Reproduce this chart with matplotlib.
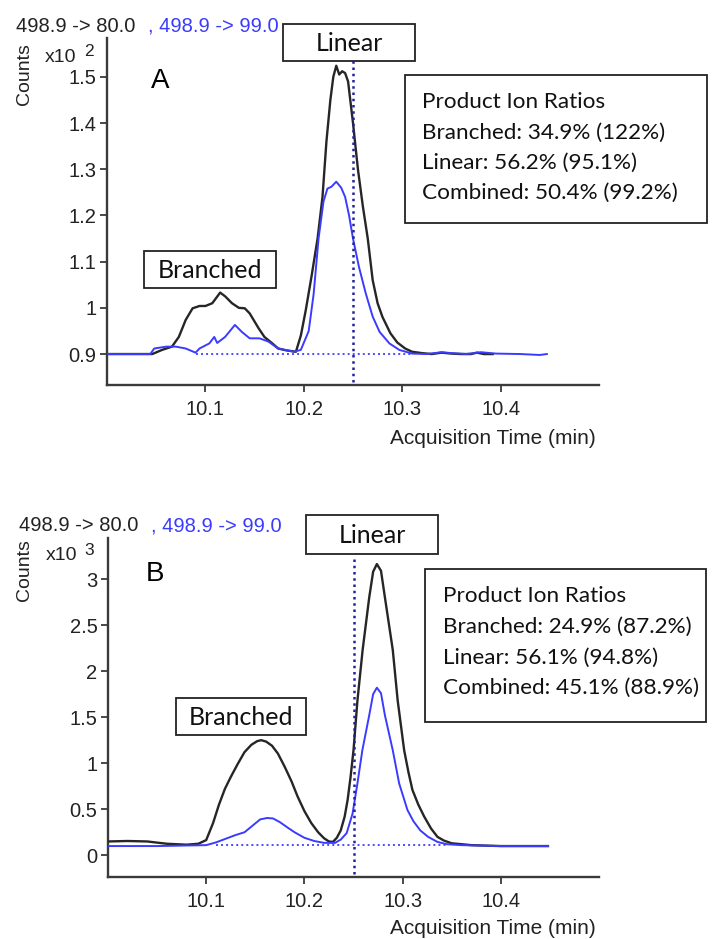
import matplotlib
matplotlib.use("Agg")
import matplotlib.pyplot as plt
from matplotlib.patches import Rectangle

# ---------------- data ----------------
# Panel A (Counts x10^2)
a_black_t = [10.000, 10.046, 10.056, 10.066, 10.073, 10.080, 10.087, 10.094, 10.100, 10.107,
             10.115, 10.120, 10.127, 10.134, 10.140, 10.145, 10.154, 10.160, 10.168, 10.174,
             10.182, 10.192, 10.197, 10.202, 10.208, 10.214, 10.219, 10.223, 10.227, 10.230,
             10.233, 10.236, 10.239, 10.242, 10.245, 10.250, 10.255, 10.260, 10.265, 10.270,
             10.275, 10.280, 10.288, 10.295, 10.303, 10.310, 10.320, 10.330, 10.340, 10.350,
             10.360, 10.370, 10.376, 10.383, 10.392]
a_black_y = [0.900, 0.900, 0.909, 0.916, 0.937, 0.974, 0.999, 1.004, 1.004, 1.010,
             1.033, 1.025, 1.010, 1.000, 0.999, 0.988, 0.956, 0.937, 0.923, 0.912,
             0.908, 0.905, 0.940, 0.995, 1.070, 1.150, 1.240, 1.360, 1.450, 1.500,
             1.524, 1.505, 1.512, 1.508, 1.490, 1.400, 1.300, 1.220, 1.150, 1.060,
             1.010, 0.980, 0.945, 0.925, 0.912, 0.905, 0.902, 0.900, 0.903, 0.901,
             0.900, 0.900, 0.903, 0.900, 0.900]

a_blue_t = [10.000, 10.044, 10.048, 10.060, 10.070, 10.080, 10.090, 10.094, 10.104, 10.109,
            10.112, 10.120, 10.130, 10.137, 10.145, 10.155, 10.164, 10.174, 10.190, 10.197,
            10.205, 10.210, 10.215, 10.220, 10.224, 10.228, 10.233, 10.238, 10.242, 10.246,
            10.250, 10.256, 10.263, 10.270, 10.277, 10.287, 10.297, 10.310, 10.325, 10.340,
            10.350, 10.365, 10.380, 10.395, 10.420, 10.440, 10.447]
a_blue_y = [0.900, 0.900, 0.912, 0.916, 0.916, 0.912, 0.903, 0.912, 0.923, 0.937,
            0.924, 0.937, 0.963, 0.948, 0.934, 0.934, 0.927, 0.912, 0.905, 0.909,
            0.950, 1.030, 1.150, 1.230, 1.258, 1.262, 1.273, 1.260, 1.240, 1.200,
            1.150, 1.089, 1.031, 0.981, 0.948, 0.923, 0.909, 0.901, 0.900, 0.904,
            0.902, 0.900, 0.904, 0.901, 0.900, 0.898, 0.900]

a_base_t = [10.090, 10.310]
a_base_y = [0.900, 0.900]
a_rt = 10.25
a_ratios = ["Product Ion Ratios", "Branched: 34.9% (122%)",
            "Linear: 56.2% (95.1%)", "Combined: 50.4% (99.2%)"]
a_yticks = [0.9, 1, 1.1, 1.2, 1.3, 1.4, 1.5]
a_yticklabels = ["0.9", "1", "1.1", "1.2", "1.3", "1.4", "1.5"]

# Panel B (Counts x10^3)
b_black_t = [10.000, 10.020, 10.040, 10.060, 10.080, 10.092, 10.100, 10.107, 10.113, 10.119,
             10.125, 10.132, 10.139, 10.146, 10.152, 10.156, 10.161, 10.167, 10.173, 10.180,
             10.187, 10.193, 10.200, 10.207, 10.214, 10.220, 10.225, 10.229, 10.233, 10.237,
             10.241, 10.244, 10.247, 10.250, 10.254, 10.2593, 10.266, 10.270, 10.2738, 10.278,
             10.282, 10.290, 10.295, 10.3016, 10.306, 10.310, 10.316, 10.322, 10.329, 10.3355,
             10.342, 10.350, 10.370, 10.400, 10.448]
b_black_y = [0.150, 0.155, 0.150, 0.125, 0.115, 0.125, 0.165, 0.350, 0.550, 0.720,
             0.850, 0.990, 1.120, 1.200, 1.240, 1.250, 1.235, 1.190, 1.105, 0.960,
             0.800, 0.640, 0.480, 0.350, 0.250, 0.185, 0.150, 0.145, 0.190, 0.270,
             0.420, 0.600, 0.850, 1.140, 1.680, 2.230, 2.800, 3.080, 3.163, 3.090,
             2.800, 2.230, 1.680, 1.140, 0.900, 0.710, 0.550, 0.420, 0.290, 0.200,
             0.160, 0.130, 0.110, 0.100, 0.100]

b_blue_t = [10.000, 10.050, 10.100, 10.110, 10.120, 10.130, 10.139, 10.147, 10.155, 10.162,
            10.168, 10.175, 10.183, 10.190, 10.200, 10.210, 10.220, 10.231, 10.237, 10.243,
            10.249, 10.254, 10.259, 10.266, 10.270, 10.2738, 10.278, 10.282, 10.290, 10.2965,
            10.305, 10.311, 10.318, 10.326, 10.3355, 10.345, 10.360, 10.400, 10.448]
b_blue_y = [0.100, 0.100, 0.110, 0.140, 0.180, 0.220, 0.250, 0.320, 0.390, 0.405,
            0.400, 0.360, 0.300, 0.250, 0.190, 0.155, 0.135, 0.134, 0.170, 0.240,
            0.450, 0.780, 1.140, 1.520, 1.750, 1.820, 1.760, 1.520, 1.140, 0.780,
            0.490, 0.370, 0.270, 0.200, 0.145, 0.120, 0.110, 0.100, 0.100]

b_base_t = [10.110, 10.345]
b_base_y = [0.110, 0.110]
b_rt = 10.25
b_ratios = ["Product Ion Ratios", "Branched: 24.9% (87.2%)",
            "Linear: 56.1% (94.8%)", "Combined: 45.1% (88.9%)"]
b_yticks = [0, 0.5, 1, 1.5, 2, 2.5, 3]
b_yticklabels = ["0", "0.5", "1", "1.5", "2", "2.5", "3"]

xticks = [10.1, 10.2, 10.3, 10.4]
xticklabels = ["10.1", "10.2", "10.3", "10.4"]
trace1 = "498.9 -> 80.0"
trace2 = ", 498.9 -> 99.0"

# ---------------- style ----------------
W, H = 719, 939
BLACK = "#262626"
BLUE = "#3b3bff"
NAVY = "#22229a"
DOTBLUE = "#4b4bff"
AX = "#3a3a3a"
TXT = "#222222"
SANS = ["Liberation Sans", "DejaVu Sans"]
BOXF = ["Lato", "DejaVu Sans"]

fig = plt.figure(figsize=(W / 100, H / 100), dpi=100)


def fx(x):
    return x / W


def fy(y):
    return 1 - y / H


def make_axes(left, top, right, bottom):
    return fig.add_axes([fx(left), fy(bottom), (right - left) / W, (bottom - top) / H])


def style_axes(ax, xlim, ylim, yticks, yticklabels):
    ax.set_xlim(*xlim)
    ax.set_ylim(*ylim)
    for s in ["top", "right"]:
        ax.spines[s].set_visible(False)
    for s in ["left", "bottom"]:
        ax.spines[s].set_color(AX)
        ax.spines[s].set_linewidth(1.7)
    ax.set_xticks(xticks)
    ax.set_xticklabels(xticklabels)
    ax.set_yticks(yticks)
    ax.set_yticklabels(yticklabels)
    ax.tick_params(axis="both", direction="out", length=5, width=1.3, color=AX,
                   labelsize=14.5, labelcolor=TXT)
    ax.tick_params(axis="y", pad=2.5)
    ax.tick_params(axis="x", pad=6)
    for lab in ax.get_xticklabels() + ax.get_yticklabels():
        lab.set_fontfamily(SANS)


def box(x0, y0, x1, y1):
    fig.add_artist(Rectangle((fx(x0), fy(y1)), (x1 - x0) / W, (y1 - y0) / H,
                             transform=fig.transFigure, fill=False,
                             edgecolor="#222222", linewidth=1.3))


def panel(ax, bt, by, ut, uy, base_t, base_y, rt, rt_lo, rt_hi):
    ax.plot(bt, by, color=BLACK, lw=1.7, solid_joinstyle="round", zorder=3)
    ax.plot(ut, uy, color=BLUE, lw=1.4, solid_joinstyle="round", zorder=4)
    ax.plot(base_t, base_y, color=DOTBLUE, lw=1.4, ls=(0, (1, 1.6)), zorder=2)
    ax.plot([rt, rt], [rt_lo, rt_hi], color=NAVY, lw=1.8, ls=(0, (1, 1.5)), zorder=5)


# ---------------- Panel A ----------------
axA = make_axes(107, 38, 599, 385)
style_axes(axA, (10.0, 10.5), (0.833, 1.584), a_yticks, a_yticklabels)
panel(axA, a_black_t, a_black_y, a_blue_t, a_blue_y, a_base_t, a_base_y, a_rt, 0.84, 1.535)

# ---------------- Panel B ----------------
axB = make_axes(108, 538, 599, 877)
style_axes(axB, (10.0, 10.5), (-0.236, 3.446), b_yticks, b_yticklabels)
panel(axB, b_black_t, b_black_y, b_blue_t, b_blue_y, b_base_t, b_base_y, b_rt, -0.2, 3.23)


def header(tx, ty, bx2, cnt_y, x10_x, x10_y, exp, exp_x, exp_y, lab_y):
    fig.text(fx(tx), fy(ty), trace1, color=TXT, fontsize=14.5, family=SANS, va="baseline")
    fig.text(fx(bx2), fy(ty), trace2, color=BLUE, fontsize=14.5, family=SANS, va="baseline")
    fig.text(fx(24), fy(cnt_y), "Counts", color=TXT, fontsize=14, family=SANS,
             rotation=90, ha="center", va="center")
    fig.text(fx(x10_x), fy(x10_y), "x10", color=TXT, fontsize=14, family=SANS, va="baseline")
    fig.text(fx(exp_x), fy(exp_y), exp, color=TXT, fontsize=12.5, family=SANS, va="baseline")
    fig.text(fx(596), fy(lab_y), "Acquisition Time (min)", color=TXT, fontsize=15,
             family=SANS, ha="right", va="baseline")


header(16, 32, 148, 74, 45, 62, "2", 84, 56.5, 444)
header(19, 531, 151, 570, 46, 560.5, "3", 84, 555, 934)

# letters
fig.text(fx(160), fy(81), "A", fontsize=20, family=SANS, color="black", ha="center", va="center")
fig.text(fx(155), fy(574), "B", fontsize=20, family=SANS, color="black", ha="center", va="center")


def labelbox(x0, y0, x1, y1, s):
    box(x0, y0, x1, y1)
    fig.text(fx((x0 + x1) / 2), fy((y0 + y1) / 2 + 1), s, fontsize=18, family=BOXF,
             color="#111111", ha="center", va="center")


labelbox(283, 24, 415, 61, "Linear")
labelbox(144, 251, 276, 288, "Branched")
labelbox(306, 515, 438, 554, "Linear")
labelbox(176, 698, 306, 735, "Branched")


def ratiobox(x0, y0, x1, y1, tx, baselines, lines):
    box(x0, y0, x1, y1)
    for b, s in zip(baselines, lines):
        fig.text(fx(tx), fy(b), s, fontsize=16.2, family=BOXF, color="#111111", va="baseline")


ratiobox(405, 75, 707, 223, 422, [108.5, 139, 168.5, 199], a_ratios)
ratiobox(425, 569, 706, 722, 443, [601.5, 633, 663.5, 694], b_ratios)

fig.savefig("out.png", dpi=100)
